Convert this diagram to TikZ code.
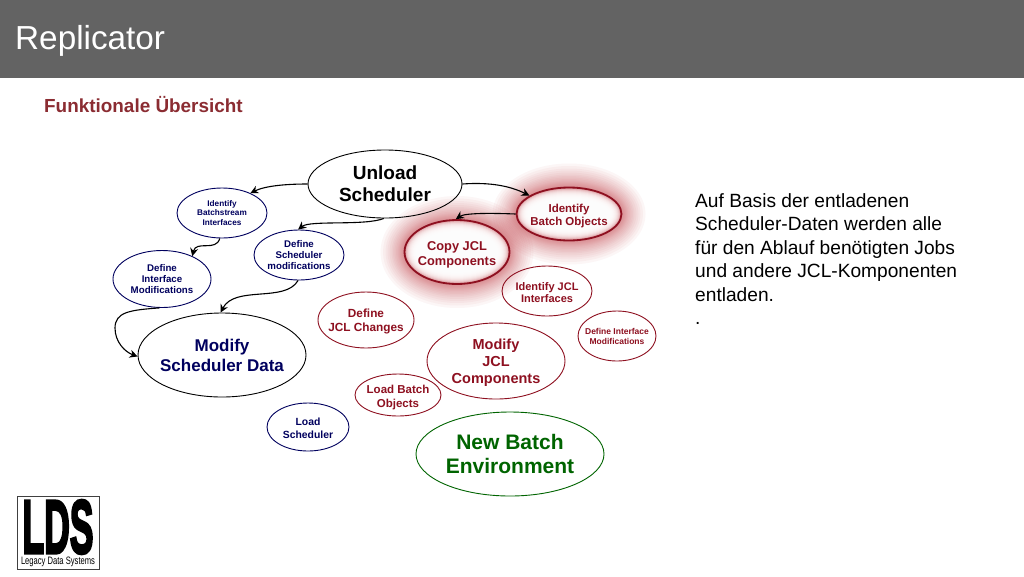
\documentclass[tikz,border=0pt]{standalone}
\usepackage{graphicx}
\usepackage{fontspec}
\setmainfont{Liberation Sans}
\newfontfamily\ldsf[BoldFeatures={FakeBold=4}]{Liberation Sans}
\usetikzlibrary{shapes.geometric,arrows.meta}
\definecolor{hdr}{HTML}{636363}
\definecolor{navy}{HTML}{00005E}
\definecolor{dred}{HTML}{8E1020}
\definecolor{gr}{HTML}{006400}
\definecolor{subt}{HTML}{8B2C32}
\definecolor{glow}{HTML}{C0303A}
\newcommand{\fsz}[1]{\fontsize{#1}{#1}\selectfont}
\newcommand{\bubfont}[1]{\pgfmathsetlengthmacro{\myskip}{#1*1.17}\bfseries\fontsize{#1}{\myskip}\selectfont}
\tikzset{
  bub/.style n args={4}{ellipse,draw=#1,text=#1,line width=0.9pt,inner sep=-100pt,align=center,
    minimum width=#2*2pt,minimum height=#3*2pt,font=\bubfont{#4}},
  link/.style={-{Stealth[length=8pt,width=8pt]},line width=1.1pt,black},
}
\newcommand{\glowat}[4]{%
  \foreach \d in {24,21.5,19,17,15,13,11.5,10,8.5,7,6,5,4,3,2,1,0}{\fill[glow,opacity=0.042] (#1,#2) ellipse [x radius=#3+\d,y radius=#4+\d];}
  \foreach \d in {1,2,...,11}{\fill[white,opacity=0.3] (#1,#2) ellipse [x radius=#3-\d,y radius=#4-\d];}
}
\begin{document}
\begin{tikzpicture}[x=1pt,y=-1pt]
\useasboundingbox (0,0) rectangle (1024,576);
\fill[white] (0,0) rectangle (1024,576);
\fill[hdr] (0,0) rectangle (1024,78);
\node[anchor=west,inner sep=0pt,text=white,font=\fsz{33.3}] (title) at (15,41) {Replicator};
\node[anchor=west,inner sep=0pt,text=subt,font=\bfseries\fsz{18.9}] (sub) at (44,105) {Funktionale Übersicht};
\glowat{569}{214}{52.5}{26.5}
\glowat{457}{252}{52.5}{32}
\node[bub={black}{77}{34}{19}] (unload) at (385,184) {Unload\\Scheduler};
\node[bub={navy}{45}{25}{8.2}] (ibi) at (222,213) {Identify\\Batchstream\\Interfaces};
\node[bub={navy}{45}{25}{9.7}] (dsm) at (299,255) {Define\\Scheduler\\modifications};
\node[bub={navy}{49}{28.5}{9.7}] (dim) at (162,279) {Define\\Interface\\Modifications};
\node[bub={navy}{84}{42}{17},draw=black] (msd) at (222,355) {Modify\\Scheduler Data};
\node[bub={dred}{52.5}{26.5}{11.5},line width=1.8pt] (ibo) at (569,214) {\rule{0pt}{12pt}Identify\\Batch Objects};
\node[bub={dred}{52.5}{32}{12.8},line width=1.8pt] (cjc) at (457,252) {\rule{0pt}{14pt}Copy JCL\\Components};
\node[bub={dred}{45}{25}{11}] (iji) at (547,291) {\rule{0pt}{11pt}Identify JCL\\Interfaces};
\node[bub={dred}{48}{28}{11.8}] (djc) at (366,320) {\rule{0pt}{12pt}Define\\JCL Changes};
\node[bub={dred}{39}{25}{8.5}] (dim2) at (617,336) {\rule{0pt}{8pt}Define Interface\\Modifications};
\node[bub={dred}{69}{38}{14.5}] (mjc) at (496,361) {\rule{0pt}{14pt}Modify\\JCL\\Components};
\node[bub={dred}{43}{21}{11.5}] (lbo) at (398,395) {\rule{0pt}{13pt}Load Batch\\Objects};
\node[bub={navy}{41}{24}{10.4}] (ls) at (308,427) {\rule{0pt}{10pt}Load\\Scheduler};
\node[bub={gr}{94}{42}{21}] (nbe) at (510,454) {New Batch\\Environment};
\draw[link] (unload.180) .. controls (285,184) and (265,186) .. (ibi.35);
\draw[link] (unload.268) .. controls (365,226) and (310,220) .. (dsm.92);
\draw[link] (ibi.265) .. controls (216,252) and (196,240) .. (dim.37);
\draw[link] (dsm.268) .. controls (285,303) and (235,285) .. (msd.92);
\draw[link] (dim.265) .. controls (130,310) and (115,312) .. (115,328) .. controls (115,342) and (125,352) .. (msd.181);
\draw[link] (unload.0) .. controls (490,182) and (510,186) .. (ibo.155);
\draw[link] (ibo.180) .. controls (490,213) and (465,213) .. (cjc.92);
\node[anchor=north west,inner sep=0pt,text=black,align=left,font=\fontsize{19.15}{23.4}\selectfont] (desc) at (695,193.5)
 {Auf Basis der entladenen\\Scheduler-Daten werden alle\\für den Ablauf benötigten Jobs\\und andere JCL-Komponenten\\entladen.\\.};
\node[draw=black!75,line width=1pt,minimum width=82pt,minimum height=73pt,inner sep=0pt] (logo) at (58,533) {};
\node[inner sep=0pt,anchor=center] (lds) at (58,527) {\resizebox{71pt}{53pt}{\ldsf\bfseries LDS}};
\node[inner sep=0pt,anchor=center] (lds2) at (58,562) {\resizebox{74pt}{7.5pt}{Legacy Data Systems}};
\end{tikzpicture}
\end{document}
